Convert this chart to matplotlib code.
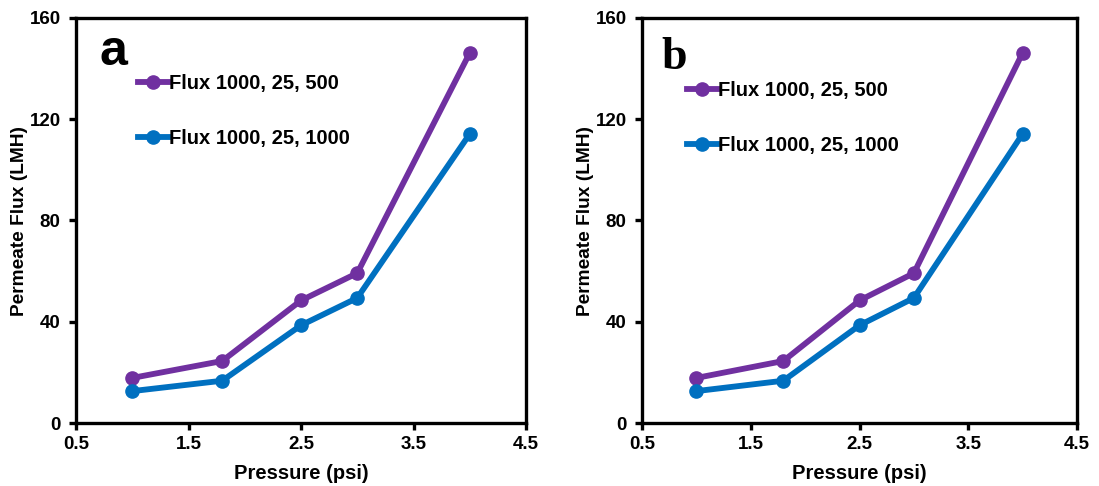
import matplotlib
matplotlib.use("Agg")
import matplotlib.pyplot as plt

pressure = [1.0, 1.8, 2.5, 3.0, 4.0]
flux_500 = [17.8, 24.5, 48.4, 59.2, 146.2]
flux_1000 = [12.6, 16.7, 38.6, 49.4, 114.2]
series_labels = ["Flux 1000, 25, 500", "Flux 1000, 25, 1000"]
x_ticks = [0.5, 1.5, 2.5, 3.5, 4.5]
y_ticks = [0, 40, 80, 120, 160]
panel_labels = ["a", "b"]

purple = "#7030A0"
blue = "#0070C0"

plt.rcParams['font.family'] = ['Liberation Sans', 'DejaVu Sans']
plt.rcParams['font.weight'] = 'bold'

fig = plt.figure(figsize=(10.99, 4.86), dpi=100)
ax_a = fig.add_axes([76/1099, 63/486, 450/1099, 405/486])
ax_b = fig.add_axes([642/1099, 63/486, 435/1099, 405/486])

configs = [
    (ax_a, panel_labels[0], dict(family=['Liberation Sans'], x=0.052, y=0.972, size=36),
     (0.138, 0.862)),
    (ax_b, panel_labels[1], dict(family=['Liberation Serif'], x=0.045, y=0.953, size=33),
     (0.103, 0.845)),
]

for ax, lab, lab_kw, leg_anchor in configs:
    ax.plot(pressure, flux_500, color=purple, lw=4.2, marker='o', ms=9.5,
            label=series_labels[0])
    ax.plot(pressure, flux_1000, color=blue, lw=4.2, marker='o', ms=9.5,
            label=series_labels[1])
    ax.set_xlim(0.5, 4.5)
    ax.set_ylim(0, 160)
    ax.set_xticks(x_ticks)
    ax.set_xticklabels([f"{v:.1f}" for v in x_ticks])
    ax.set_yticks(y_ticks)
    for s in ax.spines.values():
        s.set_linewidth(2.4)
    ax.tick_params(direction='out', length=5, width=2.4, labelsize=13.5)
    ax.tick_params(axis='y', pad=6)
    ax.tick_params(axis='x', pad=4)
    for t in ax.get_xticklabels() + ax.get_yticklabels():
        t.set_fontweight('bold')
    ax.set_xlabel("Pressure (psi)", fontsize=14.5, fontweight='bold', labelpad=8)
    ax.set_ylabel("Permeate Flux (LMH)", fontsize=13.8, fontweight='bold', labelpad=1)
    ax.text(lab_kw['x'], lab_kw['y'], lab, transform=ax.transAxes,
            fontsize=lab_kw['size'], fontweight='bold', family=lab_kw['family'],
            va='top', ha='left')
    ax.legend(loc='upper left', bbox_to_anchor=leg_anchor, frameon=False,
              prop=dict(weight='bold', size=14.5), handlelength=1.5,
              handletextpad=0.05, labelspacing=1.8, borderaxespad=0,
              borderpad=0)

fig.savefig("out.png", dpi=100)
